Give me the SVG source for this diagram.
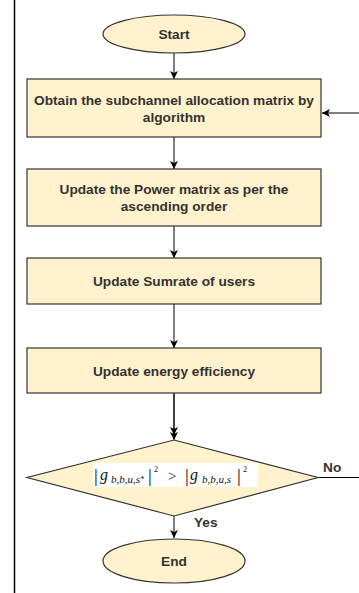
<svg xmlns="http://www.w3.org/2000/svg" width="359" height="593" viewBox="0 0 359 593">
<defs>
<style>
.shape{fill:#fff2cc;stroke:#333;stroke-width:1.2}
.lbl{font-family:"Liberation Sans",Arial,sans-serif;font-size:13.7px;font-weight:bold;fill:#333;text-anchor:middle}
.edge{stroke:#000;stroke-width:1;fill:none}
.math{font-family:"Liberation Serif","Times New Roman",serif;fill:#111}
</style>
<marker id="arr" markerUnits="userSpaceOnUse" markerWidth="10" markerHeight="10" viewBox="0 0 10 10" refX="9" refY="5" orient="auto">
<path d="M1,1 L9,5 L1,9 L3,5 z" fill="#000"/>
</marker>
</defs>
<rect width="359" height="593" fill="#fff"/>
<line x1="14.5" y1="0" x2="14.5" y2="593" stroke="#000" stroke-width="1.5"/>
<g id="connectors">
<line class="edge" x1="174" y1="53" x2="174" y2="79" marker-end="url(#arr)"/>
<line class="edge" x1="174" y1="137" x2="174" y2="169" marker-end="url(#arr)"/>
<line class="edge" x1="174" y1="226" x2="174" y2="258" marker-end="url(#arr)"/>
<line class="edge" x1="174" y1="304" x2="174" y2="348" marker-end="url(#arr)"/>
<line class="edge" x1="174" y1="393" x2="174" y2="440" marker-end="url(#arr)"/>
<line class="edge" x1="174" y1="393" x2="174" y2="435" marker-end="url(#arr)"/>
<line class="edge" x1="174" y1="516" x2="174" y2="538" marker-end="url(#arr)"/>
<line class="edge" x1="318" y1="477.5" x2="359" y2="477.5" stroke="#666"/>
<line class="edge" x1="359" y1="113" x2="322" y2="113" marker-end="url(#arr)"/>
<text x="323" y="472" class="lbl" style="text-anchor:start">No</text>
<text x="194" y="527" class="lbl" style="text-anchor:start">Yes</text>
</g>
<g id="start">
<ellipse class="shape" cx="174" cy="34" rx="71" ry="19"/>
<text x="174" y="39" class="lbl">Start</text>
</g>
<g id="obtain">
<rect class="shape" x="27" y="79" width="294" height="58"/>
<text x="174" y="105" class="lbl">Obtain the subchannel allocation matrix by</text>
<text x="174" y="122" class="lbl">algorithm</text>
</g>
<g id="power">
<rect class="shape" x="27" y="169" width="294" height="57"/>
<text x="174" y="194" class="lbl">Update the Power matrix as per the</text>
<text x="174" y="211" class="lbl">ascending order</text>
</g>
<g id="sumrate">
<rect class="shape" x="27" y="258" width="294" height="46"/>
<text x="174" y="286" class="lbl">Update Sumrate of users</text>
</g>
<g id="energy">
<rect class="shape" x="27" y="348" width="294" height="45"/>
<text x="174" y="376" class="lbl">Update energy efficiency</text>
</g>
<g id="decision">
<polygon class="shape" points="174,440 318,477.5 174,516 27,477.5"/>
<rect x="93" y="463" width="165" height="24" fill="#fff"/>
<text class="math" y="482" font-size="19"><tspan x="94">|</tspan></text>
<text class="math" y="480" font-size="16" font-style="italic"><tspan x="100">g</tspan></text>
<text class="math" y="483" font-size="11" font-style="italic"><tspan x="111">b,b,u,s</tspan><tspan font-size="8" dy="-1">*</tspan></text>
<text class="math" y="482" font-size="19"><tspan x="148">|</tspan></text>
<text class="math" y="472" font-size="8"><tspan x="154">2</tspan></text>
<text class="math" y="481" font-size="15"><tspan x="168">&gt;</tspan></text>
<text class="math" y="482" font-size="19"><tspan x="185">|</tspan></text>
<text class="math" y="480" font-size="16" font-style="italic"><tspan x="190">g</tspan></text>
<text class="math" y="483" font-size="11" font-style="italic"><tspan x="202">b,b,u,s</tspan></text>
<text class="math" y="482" font-size="19"><tspan x="237">|</tspan></text>
<text class="math" y="472" font-size="8"><tspan x="243">2</tspan></text>
</g>
<g id="end">
<ellipse class="shape" cx="174" cy="561" rx="71" ry="22"/>
<text x="174" y="566" class="lbl">End</text>
</g>
</svg>
